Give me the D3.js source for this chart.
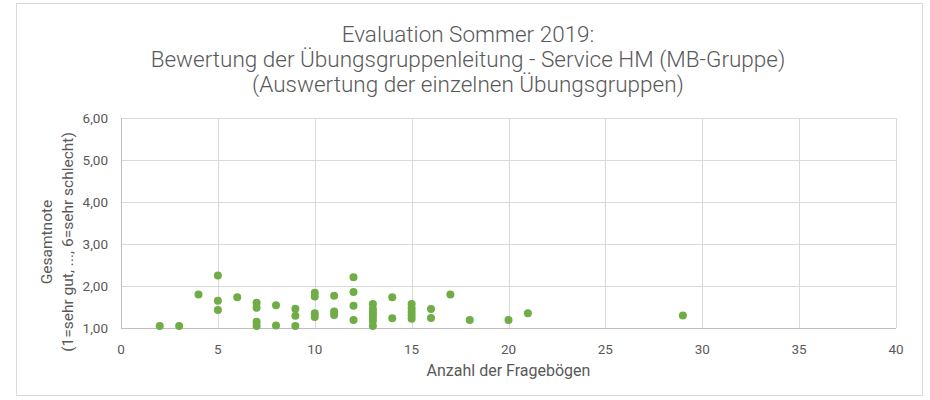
<!DOCTYPE html>
<html><head><meta charset="utf-8">
<script src="https://cdn.jsdelivr.net/npm/d3@7"></script>
<style>body{margin:0;background:#fff}svg{display:block}text{font-family:Roboto,"Noto Sans",sans-serif;fill:#595959}</style>
</head><body><svg id="c" width="930" height="400"></svg>
<script>
const titleLines = ["Evaluation Sommer 2019:", "Bewertung der Übungsgruppenleitung - Service HM (MB-Gruppe)", "(Auswertung der einzelnen Übungsgruppen)"];
const xTitle = "Anzahl der Fragebögen";
const yTitleLines = ["Gesamtnote", "(1=sehr gut, ..., 6=sehr schlecht)"];
const xTicks = [0,5,10,15,20,25,30,35,40];
const yTicks = [1,2,3,4,5,6];
const fragebogen = [2,3,4,5,5,5,6,7,7,7,7,8,8,9,9,9,10,10,10,10,11,11,11,12,12,12,12,13,13,13,13,13,13,13,14,14,15,15,15,15,15,16,16,17,18,20,21,29];
const gesamtnote = [1.05,1.05,1.80,2.25,1.65,1.43,1.73,1.60,1.48,1.15,1.05,1.54,1.06,1.46,1.29,1.05,1.84,1.75,1.35,1.26,1.77,1.39,1.31,2.21,1.86,1.53,1.19,1.57,1.45,1.38,1.32,1.25,1.17,1.05,1.73,1.23,1.57,1.47,1.38,1.30,1.22,1.45,1.24,1.80,1.19,1.19,1.35,1.30];

const svg = d3.select("#c");
svg.append("rect").attr("x",16.5).attr("y",3.5).attr("width",906).attr("height",392).attr("fill","#fff").attr("stroke","#d9d9d9");
const L=121,R=896,T=118,B=328;
const x = d3.scaleLinear().domain([0,40]).range([L,R]);
const y = d3.scaleLinear().domain([1,6]).range([B,T]);
const fmt = d=>d3.format(".2f")(d).replace(".",",");

svg.append("g").selectAll("line").data(yTicks).join("line")
  .attr("x1",L).attr("x2",R).attr("y1",d=>y(d)+0.5).attr("y2",d=>y(d)+0.5).attr("stroke","#d9d9d9");
svg.append("g").selectAll("line").data(xTicks).join("line")
  .attr("y1",T).attr("y2",B).attr("x1",d=>Math.round(x(d))+0.5).attr("x2",d=>Math.round(x(d))+0.5).attr("stroke","#d9d9d9");
svg.append("line").attr("x1",L).attr("x2",R).attr("y1",B+0.5).attr("y2",B+0.5).attr("stroke","#bfbfbf");
svg.append("line").attr("x1",L+0.5).attr("x2",L+0.5).attr("y1",T).attr("y2",B).attr("stroke","#bfbfbf");

svg.append("g").selectAll("text").data(yTicks).join("text")
  .attr("x",108).attr("y",d=>y(d)).attr("dy","0.35em").attr("text-anchor","end").attr("font-size",13.5).text(fmt);
svg.append("g").selectAll("text").data(xTicks).join("text")
  .attr("x",d=>x(d)).attr("y",353.5).attr("text-anchor","middle").attr("font-size",13.5).text(d=>d);

svg.append("text").attr("x",(L+R)/2).attr("y",376).attr("text-anchor","middle").attr("font-size",16).text(xTitle);
yTitleLines.forEach((t,i)=>{
  svg.append("text").attr("transform",`translate(${52+i*21},242) rotate(-90)`).attr("text-anchor","middle").attr("font-size",15.5).text(t);
});
titleLines.forEach((t,i)=>{
  svg.append("text").attr("x",468).attr("y",42+i*25).attr("text-anchor","middle").attr("font-size",22.5).attr("font-weight",300).text(t);
});

svg.append("g").selectAll("circle").data(fragebogen.map((f,i)=>[f,gesamtnote[i]])).join("circle")
  .attr("cx",d=>x(d[0])).attr("cy",d=>y(d[1])).attr("r",4).attr("fill","#70ad47");
</script></body></html>
